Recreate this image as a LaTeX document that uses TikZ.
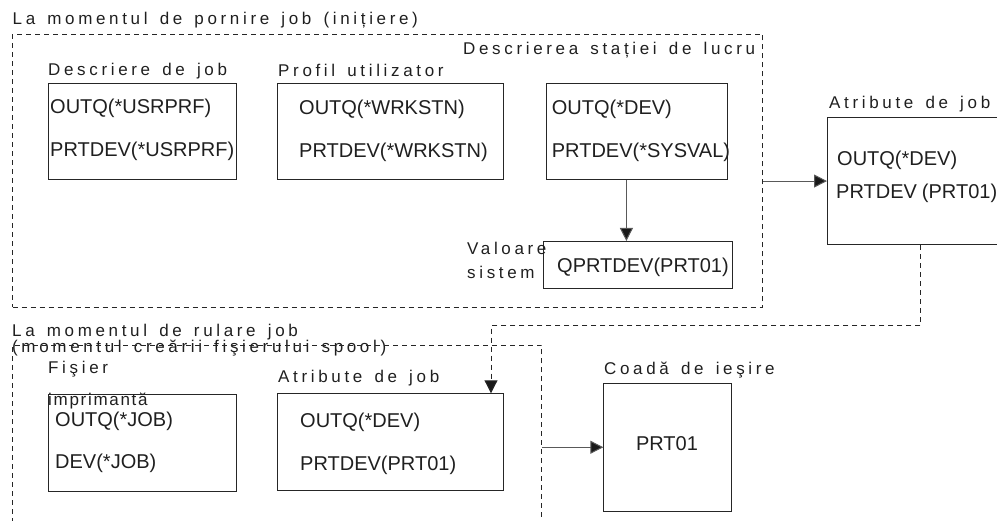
\documentclass[tikz,border=0pt]{standalone}
\usepackage{fontspec}
\setmainfont{Liberation Sans}
\newfontfamily\lblfont[LetterSpace=21.5,WordSpace=1.45]{Liberation Sans}
\newfontfamily\lblfontb[LetterSpace=10]{Liberation Sans}
\usetikzlibrary{arrows.meta}
\begin{document}
\begin{tikzpicture}[x=1pt,y=-1pt,
  lbl/.style={font=\lblfont\fontsize{17}{20}\selectfont, anchor=base west, inner sep=0pt, text=black!88},
  lblb/.style={font=\lblfontb\fontsize{17}{20}\selectfont, anchor=base west, inner sep=0pt, text=black!88},
  val/.style={font=\fontsize{20}{24}\selectfont, anchor=base west, inner sep=0pt, text=black!88},
  box/.style={draw=black!85, line width=1.1pt, anchor=north west, inner sep=0pt},
  frame/.style={draw=black!85, line width=1pt, dash pattern=on 5pt off 4pt, anchor=north west, inner sep=0pt},
  arr/.style={draw=black!65, line width=1pt, -{Triangle[length=13pt,width=13pt,fill=black!90]}},
  darr/.style={draw=black!85, line width=1pt, dash pattern=on 5pt off 4pt, -{Triangle[length=13pt,width=13pt,fill=black!90]}}
]
\useasboundingbox (0,0) rectangle (997,521);

% upper frame
\node[lbl] (t1) at (12.5,25) {La momentul de pornire job (inițiere)};
\node[frame, minimum width=750pt, minimum height=273pt] (f1) at (12,34) {};
\node[lbl] (ws) at (463,55) {Descrierea stației de lucru};

\node[lbl] (l1) at (48,76) {Descriere de job};
\node[box, minimum width=188.3pt, minimum height=96.3pt] (b1) at (47.7,82.7) {};
\node[val] (b1a) at (50,114) {OUTQ(*USRPRF)};
\node[val] (b1b) at (50,157) {PRTDEV(*USRPRF)};

\node[lbl] (l2) at (278,77) {Profil utilizator};
\node[box, minimum width=226pt, minimum height=96.3pt] (b2) at (276.7,82.7) {};
\node[val] (b2a) at (299,115) {OUTQ(*WRKSTN)};
\node[val] (b2b) at (299,158) {PRTDEV(*WRKSTN)};

\node[box, minimum width=181.3pt, minimum height=96.3pt] (b3) at (545.7,82.7) {};
\node[val] (b3a) at (551.7,115) {OUTQ(*DEV)};
\node[val] (b3b) at (551.7,158) {PRTDEV(*SYSVAL)};

\node[box, minimum width=188.7pt, minimum height=46.7pt] (q) at (543.3,241) {};
\node[val] (qa) at (557,273) {QPRTDEV(PRT01)};
\node[lbl] (v1) at (467,255) {Valoare};
\node[lbl] (v2) at (467,279) {sistem};

\node[lbl] (l3) at (829,109) {Atribute de job};
\node[box, minimum width=186pt, minimum height=127pt] (a1) at (827,117) {};
\node[val] (a1a) at (837,166) {OUTQ(*DEV)};
\node[val] (a1b) at (836,199) {PRTDEV\hspace{5pt}(PRT01)};

% lower frame
\node[lbl] (t2) at (12,337) {La momentul de rulare job};
\node[lbl] (t3) at (12,353) {(momentul creării fişierului spool)};
\node[frame, minimum width=529pt, minimum height=200pt] (f2) at (12,345) {};

\node[lbl] (l4) at (48,374) {Fişier};
\node[box, minimum width=188.3pt, minimum height=96.7pt] (b4) at (47.7,394) {};
\node[lblb] (l4b) at (48,406) {imprimantă};
\node[val] (b4a) at (55,426.7) {OUTQ(*JOB)};
\node[val] (b4b) at (55,468.3) {DEV(*JOB)};

\node[lbl] (l5) at (278,383) {Atribute de job};
\node[box, minimum width=226pt, minimum height=96.7pt] (a2) at (276.7,393.3) {};
\node[val] (a2a) at (300,428) {OUTQ(*DEV)};
\node[val] (a2b) at (300,470.7) {PRTDEV(PRT01)};

\node[lbl] (l6) at (604,375) {Coadă de ieşire};
\node[box, minimum width=128pt, minimum height=128pt] (c) at (603.3,382.7) {};
\node[val, anchor=base] (ca) at (667,450) {PRT01};

% connectors
\coordinate (turn) at (491,326);
\draw[arr] ([xshift=-10.5pt]b3.south) -- ([xshift=-10.5pt]b3.south |- q.north);
\draw[arr] (f1.east |- a1.west) -- (a1.west);
\draw[darr] (a1.south) |- (turn) -- (turn |- a2.north);
\draw[arr] (f2.east |- c.west) -- (c.west);
\end{tikzpicture}
\end{document}
